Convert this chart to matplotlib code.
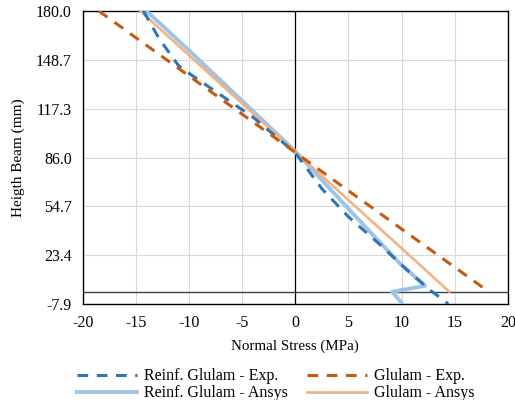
import numpy as np
import matplotlib.pyplot as plt

plt.rcParams['font.family'] = ['Liberation Serif', 'DejaVu Serif']
plt.rcParams['axes.unicode_minus'] = False

# Reinf. Glulam - Exp.
reinf_exp_x = [-14.3, -12.8, -11.0, -10.0, -4.0, 0.0, 2.5, 5.0, 8.0, 10.5, 12.7, 14.4]
reinf_exp_y = [180.0, 162.0, 145.0, 140.0, 112.0, 89.0, 66.0, 48.0, 30.0, 14.0, 1.0, -7.9]
# Glulam - Exp.
glulam_exp_x = [-18.5, 18.2]
glulam_exp_y = [180.0, 0.0]
# Reinf. Glulam - Ansys
reinf_ansys_x = [-14.0, -9.9, 0.0, 5.1, 9.8, 12.2, 9.1, 10.1]
reinf_ansys_y = [180.0, 154.0, 90.0, 52.4, 18.4, 3.7, 0.0, -7.9]
# Glulam - Ansys
glulam_ansys_x = [-14.6, 14.5]
glulam_ansys_y = [180.0, 0.0]

y_ticks = [-7.9, 23.4, 54.7, 86.0, 117.3, 148.7, 180.0]
x_ticks = [-20, -15, -10, -5, 0, 5, 10, 15, 20]


def main():
    fig = plt.figure(figsize=(5.15, 4.0), dpi=100)
    ax = fig.add_axes([0.161, 0.24, 0.825, 0.7325])

    ax.axhline(0, color='#404040', lw=1.0, zorder=2)
    ax.axvline(0, color='black', lw=0.9, zorder=2)

    l1, = ax.plot(reinf_exp_x, reinf_exp_y, color='#2E75B6', lw=2.2,
                  dashes=(3.5, 2.8), zorder=4)
    l2, = ax.plot(reinf_ansys_x, reinf_ansys_y, color='#9DC3E6', lw=2.8, zorder=3)
    l3, = ax.plot(glulam_exp_x, glulam_exp_y, color='#C55A11', lw=2.2,
                  dashes=(3.5, 2.8), zorder=4)
    l4, = ax.plot(glulam_ansys_x, glulam_ansys_y, color='#F4B183', lw=1.9, zorder=3)

    ax.set_xlim(-20, 20)
    ax.set_ylim(-7.9, 180)
    ax.set_xticks(x_ticks)
    ax.set_yticks(y_ticks)
    ax.set_yticklabels(['%.1f' % v for v in y_ticks])
    ax.grid(True, color='#D9D9D9', lw=0.8)
    ax.set_axisbelow(True)
    ax.tick_params(length=0, labelsize=11.5, pad=8)
    for s in ax.spines.values():
        s.set_color('black')
        s.set_linewidth(1.0)

    ax.set_xlabel('Normal Stress (MPa)', fontsize=10.8, labelpad=6)
    ax.set_ylabel('Heigth Beam (mm)', fontsize=11, labelpad=8)

    fig.legend([l1, l2, l3, l4],
               ['Reinf. Glulam - Exp.', 'Reinf. Glulam - Ansys',
                'Glulam - Exp.', 'Glulam - Ansys'],
               ncol=2, loc='upper center', bbox_to_anchor=(0.535, 0.115),
               frameon=False, fontsize=11.5, handlelength=3.8,
               columnspacing=1.2, labelspacing=0.05, handletextpad=0.4)

    fig.savefig('out.png')


if __name__ == "__main__":
    main()
